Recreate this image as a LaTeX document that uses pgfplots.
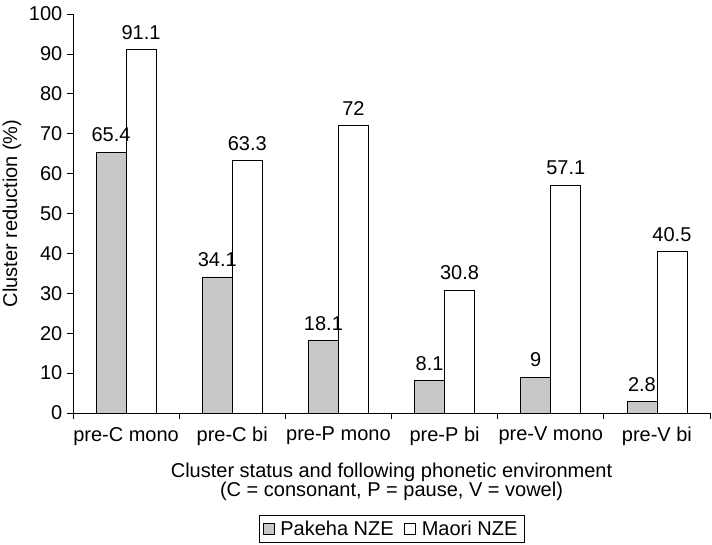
\documentclass[border=0pt]{standalone}
\usepackage{fontspec}
\setmainfont{Liberation Sans}
\usepackage{pgfplots}
\pgfplotsset{compat=1.18}
\definecolor{pak}{RGB}{200,200,200}
\begin{document}
\begin{tikzpicture}
\useasboundingbox (-54.75pt,-98.25pt) rectangle (479.25pt,309.75pt);
\begin{axis}[
  at={(0,0)}, anchor=south west,
  scale only axis, width=477.75pt, height=299.25pt,
  xmin=-0.5, xmax=5.5, ymin=0, ymax=100,
  axis x line*=bottom, axis y line*=left,
  ybar=0pt, bar width=22.5pt,
  xtick={0,1,2,3,4,5},
  xticklabels={pre-C mono,pre-C bi,pre-P mono,pre-P bi,pre-V mono,pre-V bi},
  major x tick style={draw=none},
  minor xtick={-0.5,0.5,1.5,2.5,3.5,4.5,5.5},
  minor x tick style={black},
  ytick={0,10,...,100},
  tick align=outside,
  major tick length=4.5pt, minor tick length=4.5pt,
  tick style={black, line width=0.6pt},
  axis line style={line width=0.6pt},
  /pgf/number format/assume math mode=true,
  font=\fontsize{15pt}{18pt}\selectfont,
  ticklabel style={font=\fontsize{15pt}{18pt}\selectfont},
  xticklabel style={yshift=-2.5pt},
  nodes near coords,
  nodes near coords style={font=\fontsize{15pt}{18pt}\selectfont, black, yshift=4pt},
  ylabel={Cluster reduction (\%)},
  ylabel style={at={(axis description cs:-0.096,0.5)}, anchor=center, font=\fontsize{15pt}{18pt}\selectfont},
  xlabel={Cluster status and following phonetic environment\\(C = consonant, P = pause, V = vowel)},
  xlabel style={at={(axis description cs:0.5,-0.172)}, anchor=center, align=center, font=\fontsize{15pt}{14pt}\selectfont},
  legend columns=2,
  legend style={at={(axis description cs:0.5,-0.291)}, anchor=center, draw=black, line width=0.6pt,
    font=\fontsize{15pt}{18pt}\selectfont, inner xsep=3pt, inner ysep=2pt,
    /tikz/every even column/.append style={column sep=6pt}},
  legend image code/.code={\draw[#1, line width=0.5pt] (0pt,-4pt) rectangle (8pt,4pt); \path (10.5pt,0pt);},
]
\addplot[draw=black, fill=pak, line width=0.6pt] coordinates {(0,65.4) (1,34.1) (2,18.1) (3,8.1) (4,9) (5,2.8)};
\addplot[draw=black, fill=white, line width=0.6pt] coordinates {(0,91.1) (1,63.3) (2,72) (3,30.8) (4,57.1) (5,40.5)};
\legend{Pakeha NZE, Maori NZE}
\end{axis}
\end{tikzpicture}
\end{document}
